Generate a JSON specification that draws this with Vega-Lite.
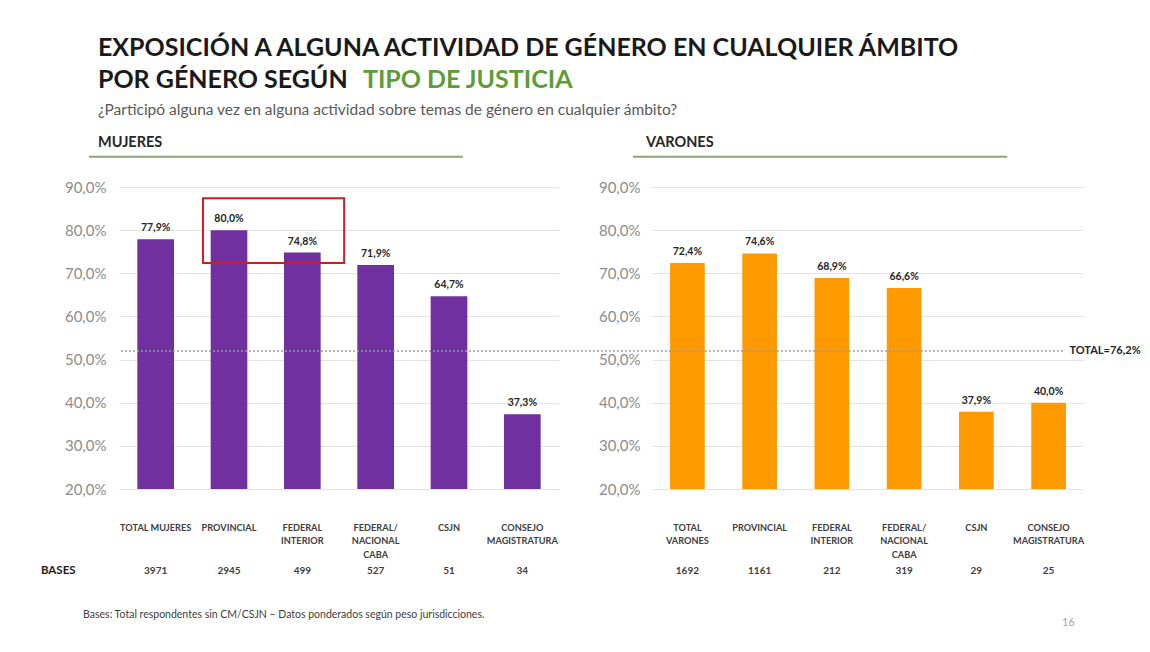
{
  "$schema": "https://vega.github.io/schema/vega-lite/v6.json",
  "background": "white",
  "padding": {"left": 40, "top": 36, "right": 5, "bottom": 5},
  "config": {"view": {"stroke": null}, "font": "Lato"},
  "datasets": {
    "mujeres": [
      {"cat": "TOTAL MUJERES", "value": 77.9, "label": "77,9%", "base": 3971},
      {"cat": "PROVINCIAL", "value": 80.0, "label": "80,0%", "base": 2945},
      {"cat": "FEDERAL|INTERIOR", "value": 74.8, "label": "74,8%", "base": 499},
      {"cat": "FEDERAL/|NACIONAL|CABA", "value": 71.9, "label": "71,9%", "base": 527},
      {"cat": "CSJN", "value": 64.7, "label": "64,7%", "base": 51},
      {"cat": "CONSEJO|MAGISTRATURA", "value": 37.3, "label": "37,3%", "base": 34}
    ],
    "varones": [
      {"cat": "TOTAL|VARONES", "value": 72.4, "label": "72,4%", "base": 1692},
      {"cat": "PROVINCIAL", "value": 74.6, "label": "74,6%", "base": 1161},
      {"cat": "FEDERAL|INTERIOR", "value": 68.9, "label": "68,9%", "base": 212},
      {"cat": "FEDERAL/|NACIONAL|CABA", "value": 66.6, "label": "66,6%", "base": 319},
      {"cat": "CSJN", "value": 37.9, "label": "37,9%", "base": 29},
      {"cat": "CONSEJO|MAGISTRATURA", "value": 40.0, "label": "40,0%", "base": 25}
    ]
  },
  "title": {
    "text": ["EXPOSICIÓN A ALGUNA ACTIVIDAD DE GÉNERO EN CUALQUIER ÁMBITO", "POR GÉNERO SEGÚN"],
    "subtitle": "¿Participó alguna vez en alguna actividad sobre temas de género en cualquier ámbito?",
    "anchor": "start", "frame": "bounds", "dx": 57, "dy": 50.5, "offset": 0,
    "font": "Lato", "fontSize": 25, "fontWeight": "bold", "color": "#1a1a1a", "lineHeight": 32,
    "subtitleFont": "Lato", "subtitleFontSize": 15.5, "subtitleColor": "#595959", "subtitlePadding": 10
  },
  "vconcat": [
    {
      "title": {
        "text": "TIPO DE JUSTICIA", "anchor": "start", "frame": "bounds", "dx": 322, "offset": 42,
        "font": "Lato", "fontSize": 25, "fontWeight": "bold", "color": "#5e9c3a"
      },
      "spacing": 0,
      "hconcat": [
        {
          "width": 440, "height": 302,
          "data": {"name": "mujeres"},
          "title": {"text": "MUJERES", "anchor": "start", "frame": "group", "dx": -21, "fontSize": 14.5, "fontWeight": "bold", "color": "#262626", "offset": 5, "font": "Lato"},
          "layer": [
            {
              "mark": {"type": "bar", "color": "#7030a0"},
              "encoding": {
                "x": {"field": "cat", "type": "nominal", "sort": null,
                  "scale": {"domain": ["TOTAL MUJERES", "PROVINCIAL", "FEDERAL|INTERIOR", "FEDERAL/|NACIONAL|CABA", "CSJN", "CONSEJO|MAGISTRATURA"], "paddingInner": 0.5, "paddingOuter": 0.25},
                  "axis": {"title": null, "labelAngle": 0, "labelExpr": "split(datum.value, '|')", "ticks": false, "tickSize": 0, "domain": false, "labelPadding": 38, "labelBaseline": "middle", "labelFont": "Lato", "labelFontSize": 9.2, "labelFontWeight": "bold", "labelColor": "#404040", "labelLineHeight": 13.5, "labelOverlap": false}},
                "y": {"field": "value", "type": "quantitative",
                  "scale": {"domain": [20, 90], "nice": false, "zero": false},
                  "axis": {"title": null, "values": [20, 30, 40, 50, 60, 70, 80, 90], "labelExpr": "replace(format(datum.value, '.1f'), '.', ',') + '%'", "domain": false, "ticks": false, "tickSize": 0, "labelPadding": 13, "labelFont": "Lato", "labelFontSize": 15, "labelColor": "#8c8c8c", "gridColor": "#e3e3e3", "gridWidth": 1}},
                "y2": {"datum": 20}
              }
            },
            {
              "mark": {"type": "text", "baseline": "bottom", "dy": -6, "fontSize": 10.5, "fontWeight": "bold", "color": "#262626", "font": "Lato"},
              "encoding": {
                "x": {"field": "cat", "type": "nominal"},
                "y": {"field": "value", "type": "quantitative"},
                "text": {"field": "label"}
              }
            },
            {
              "mark": {"type": "text", "baseline": "middle", "fontSize": 10, "fontWeight": "bold", "color": "#404040", "font": "Lato"},
              "encoding": {
                "x": {"field": "cat", "type": "nominal"},
                "y": {"datum": 1.0, "type": "quantitative"},
                "text": {"field": "base"}
              }
            },
            {
              "data": {"values": [{}]},
              "mark": {"type": "rule", "color": "#8da27a", "strokeWidth": 2},
              "encoding": {
                "x": {"datum": "TOTAL MUJERES", "bandPosition": -1.32},
                "x2": {"datum": "CSJN", "bandPosition": 0.88},
                "y": {"datum": 97, "type": "quantitative"}
              }
            },
            {
              "data": {"values": [{}]},
              "mark": {"type": "rule", "color": "#9a9a9a", "strokeDash": [2, 2], "strokeWidth": 1.5},
              "encoding": {"y": {"datum": 52, "type": "quantitative"}}
            },
            {
              "data": {"values": [{}]},
              "mark": {"type": "rect", "fillOpacity": 0, "stroke": "#d01c1c", "strokeWidth": 2},
              "encoding": {
                "x": {"datum": "PROVINCIAL", "bandPosition": -0.21},
                "x2": {"datum": "FEDERAL|INTERIOR", "bandPosition": 1.64},
                "y": {"datum": 87.4, "type": "quantitative"},
                "y2": {"datum": 72.4}
              }
            },
            {
              "data": {"values": [{"t": "BASES"}]},
              "mark": {"type": "text", "align": "left", "baseline": "middle", "fontSize": 11.5, "fontWeight": "bold", "color": "#1a1a1a", "font": "Lato"},
              "encoding": {
                "x": {"datum": "TOTAL MUJERES", "bandPosition": -2.63},
                "y": {"datum": 1.0, "type": "quantitative"},
                "text": {"field": "t"}
              }
            },
            {
              "data": {"values": [{"t": "Bases: Total respondentes sin CM/CSJN – Datos ponderados según peso jurisdicciones."}]},
              "mark": {"type": "text", "align": "left", "baseline": "middle", "fontSize": 10.5, "color": "#404040", "font": "Lato"},
              "encoding": {
                "x": {"datum": "TOTAL MUJERES", "bandPosition": -1.48},
                "y": {"datum": -9.2, "type": "quantitative"},
                "text": {"field": "t"}
              }
            }
          ]
        },
        {
          "width": 432, "height": 302,
          "data": {"name": "varones"},
          "title": {"text": "VARONES", "anchor": "start", "frame": "group", "dx": -6, "fontSize": 14.5, "fontWeight": "bold", "color": "#262626", "offset": 5, "font": "Lato"},
          "layer": [
            {
              "mark": {"type": "bar", "color": "#ff9900"},
              "encoding": {
                "x": {"field": "cat", "type": "nominal", "sort": null,
                  "scale": {"domain": ["TOTAL|VARONES", "PROVINCIAL", "FEDERAL|INTERIOR", "FEDERAL/|NACIONAL|CABA", "CSJN", "CONSEJO|MAGISTRATURA"], "paddingInner": 0.52, "paddingOuter": 0.25},
                  "axis": {"title": null, "labelAngle": 0, "labelExpr": "split(datum.value, '|')", "ticks": false, "tickSize": 0, "domain": false, "labelPadding": 38, "labelBaseline": "middle", "labelFont": "Lato", "labelFontSize": 9.2, "labelFontWeight": "bold", "labelColor": "#404040", "labelLineHeight": 13.5, "labelOverlap": false}},
                "y": {"field": "value", "type": "quantitative",
                  "scale": {"domain": [20, 90], "nice": false, "zero": false},
                  "axis": {"title": null, "values": [20, 30, 40, 50, 60, 70, 80, 90], "labelExpr": "replace(format(datum.value, '.1f'), '.', ',') + '%'", "domain": false, "ticks": false, "tickSize": 0, "labelPadding": 12, "labelFont": "Lato", "labelFontSize": 15, "labelColor": "#8c8c8c", "gridColor": "#e3e3e3", "gridWidth": 1}},
                "y2": {"datum": 20}
              }
            },
            {
              "mark": {"type": "text", "baseline": "bottom", "dy": -6, "fontSize": 10.5, "fontWeight": "bold", "color": "#262626", "font": "Lato"},
              "encoding": {
                "x": {"field": "cat", "type": "nominal"},
                "y": {"field": "value", "type": "quantitative"},
                "text": {"field": "label"}
              }
            },
            {
              "mark": {"type": "text", "baseline": "middle", "fontSize": 10, "fontWeight": "bold", "color": "#404040", "font": "Lato"},
              "encoding": {
                "x": {"field": "cat", "type": "nominal"},
                "y": {"datum": 1.0, "type": "quantitative"},
                "text": {"field": "base"}
              }
            },
            {
              "data": {"values": [{}]},
              "mark": {"type": "rule", "color": "#8da27a", "strokeWidth": 2},
              "encoding": {
                "x": {"datum": "TOTAL|VARONES", "bandPosition": -1.07},
                "x2": {"datum": "CSJN", "bandPosition": 1.39},
                "y": {"datum": 97, "type": "quantitative"}
              }
            },
            {
              "data": {"values": [{}]},
              "mark": {"type": "rule", "color": "#9a9a9a", "strokeDash": [2, 2], "strokeWidth": 1.5},
              "encoding": {
                "x": {"datum": "TOTAL|VARONES", "bandPosition": -3.15},
                "x2": {"datum": "CONSEJO|MAGISTRATURA", "bandPosition": 0.95},
                "y": {"datum": 52, "type": "quantitative"}
              }
            },
            {
              "data": {"values": [{"t": "TOTAL=76,2%"}]},
              "mark": {"type": "text", "align": "left", "baseline": "middle", "fontSize": 11, "fontWeight": "bold", "color": "#262626", "font": "Lato"},
              "encoding": {
                "x": {"datum": "CONSEJO|MAGISTRATURA", "bandPosition": 1.1},
                "y": {"datum": 52, "type": "quantitative"},
                "text": {"field": "t"}
              }
            },
            {
              "data": {"values": [{"t": "16"}]},
              "mark": {"type": "text", "align": "center", "baseline": "middle", "fontSize": 11, "color": "#a0a0a0", "font": "Lato"},
              "encoding": {
                "x": {"datum": "CONSEJO|MAGISTRATURA", "bandPosition": 1.07},
                "y": {"datum": -11.1, "type": "quantitative"},
                "text": {"field": "t"}
              }
            }
          ]
        }
      ]
    }
  ]
}
